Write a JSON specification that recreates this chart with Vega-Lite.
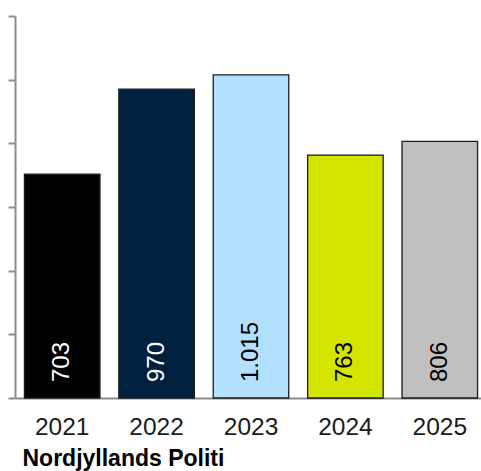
{
  "$schema": "https://vega.github.io/schema/vega-lite/v6.json",
  "autosize": "none",
  "width": 472,
  "height": 382,
  "padding": {"left": 15, "top": 16, "right": 0, "bottom": 73},
  "background": "white",
  "config": {
    "view": {"stroke": null},
    "font": "Liberation Sans",
    "locale": {"number": {"decimal": ",", "thousands": ".", "grouping": [3], "currency": ["", " kr."]}}
  },
  "data": {
    "values": [
      {"year": "2021", "value": 703},
      {"year": "2022", "value": 970},
      {"year": "2023", "value": 1015},
      {"year": "2024", "value": 763},
      {"year": "2025", "value": 806}
    ]
  },
  "encoding": {
    "x": {
      "field": "year", "type": "nominal", "sort": null,
      "scale": {"paddingInner": 0.2, "paddingOuter": 0.1},
      "axis": {
        "title": "Nordjyllands Politi",
        "titleFont": "Liberation Sans", "titleFontSize": 23, "titleFontWeight": "bold", "titleColor": "#000000",
        "titleAnchor": "start", "titleAlign": "left", "titleX": 7, "titleY": 67, "titleBaseline": "alphabetic",
        "labelFontSize": 24.5, "labelColor": "#1a1a1a", "labelAngle": 0, "labelPadding": 17,
        "ticks": false, "domainColor": "#8c8c8c", "domainWidth": 2
      }
    }
  },
  "layer": [
    {
      "mark": {"type": "bar", "stroke": "#1a1a1a", "strokeWidth": 1.3},
      "encoding": {
        "y": {
          "field": "value", "type": "quantitative",
          "scale": {"domain": [0, 1200], "nice": false},
          "axis": {
            "title": null, "labels": false, "grid": false,
            "values": [0, 200, 400, 600, 800, 1000, 1200],
            "tickSize": 7, "tickColor": "#8c8c8c", "tickWidth": 2,
            "domainColor": "#8c8c8c", "domainWidth": 2
          }
        },
        "color": {
          "field": "year", "type": "nominal", "legend": null,
          "scale": {"domain": ["2021", "2022", "2023", "2024", "2025"], "range": ["#000000", "#00203f", "#b3e0ff", "#d4e600", "#c0c0c0"]}
        }
      }
    },
    {
      "mark": {"type": "text", "angle": 270, "align": "left", "baseline": "middle", "fontSize": 24, "yOffset": -16},
      "encoding": {
        "y": {"datum": 0, "type": "quantitative"},
        "text": {"field": "value", "type": "quantitative", "format": ",d"},
        "color": {"condition": {"test": "datum.year === '2021' || datum.year === '2022'", "value": "#ffffff"}, "value": "#000000"}
      }
    }
  ]
}
